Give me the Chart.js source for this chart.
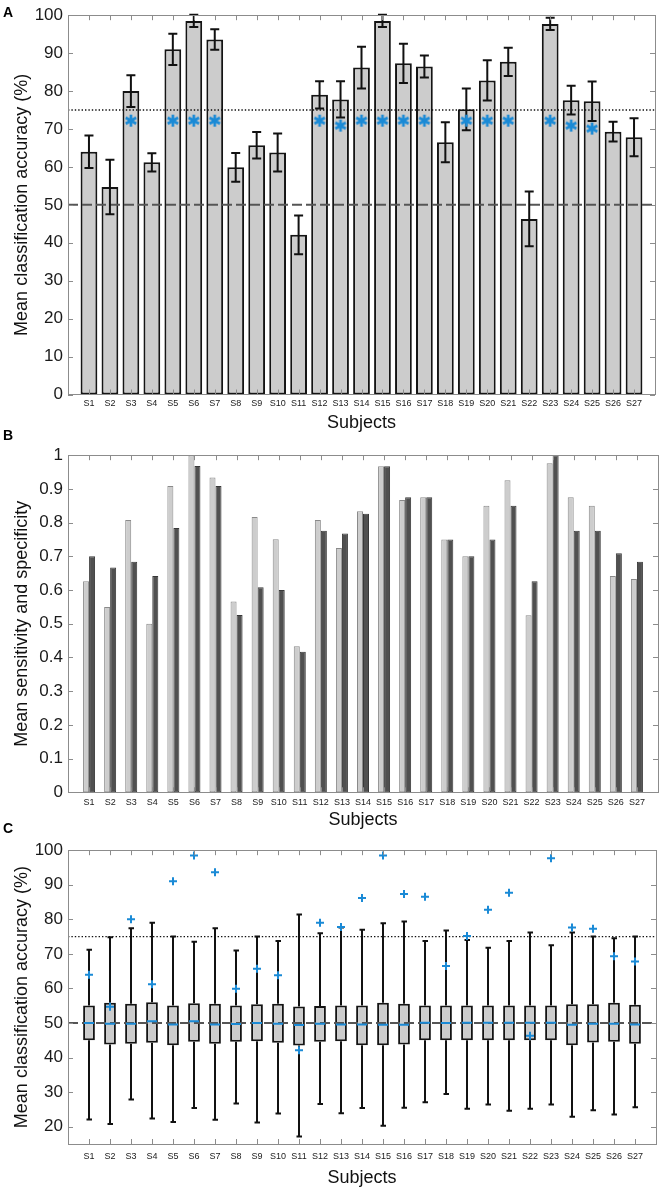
<!DOCTYPE html>
<html>
<head>
<meta charset="utf-8">
<script src="https://cdn.jsdelivr.net/npm/chart.js@4.4.0/dist/chart.umd.min.js"></script>
<style>
  body { margin: 0; background: #fff; width: 663px; height: 1191px; position: relative; overflow: hidden; }
  canvas { position: absolute; left: 0; }
  .panel { position: absolute; left: 3px; font: bold 14px "Liberation Sans", Arial, sans-serif; line-height: 14px; color: #000; z-index: 2; }
</style>
</head>
<body>
<canvas id="chartA" width="663" height="440" style="top:0"></canvas>
<canvas id="chartB" width="663" height="395" style="top:440px"></canvas>
<canvas id="chartC" width="663" height="356" style="top:835px"></canvas>
<div class="panel" style="top:5px">A</div>
<div class="panel" style="top:428px">B</div>
<div class="panel" style="top:821px">C</div>
<script>
// subjects on the x axis (shared by all three panels)
var subjects = ['S1','S2','S3','S4','S5','S6','S7','S8','S9','S10','S11','S12','S13','S14',
  'S15','S16','S17','S18','S19','S20','S21','S22','S23','S24','S25','S26','S27'];

// panel A: mean accuracy, error, significance stars
var meanAcc = [64.0, 54.7, 80.0, 61.2, 91.0, 98.5, 93.6, 59.9, 65.7, 63.8, 42.1, 79.0, 77.8, 86.2,
  98.5, 87.3, 86.5, 66.5, 75.2, 82.8, 87.7, 46.3, 97.7, 77.6, 77.3, 69.3, 67.8];
var accErr = [4.3, 7.2, 4.2, 2.4, 4.1, 1.6, 2.7, 3.8, 3.5, 5.0, 5.1, 3.6, 4.8, 5.5,
  1.6, 5.2, 2.9, 5.3, 5.5, 5.3, 3.7, 7.2, 1.6, 3.8, 5.2, 2.6, 5.0];
var starY = [null, null, 72.2, null, 72.2, 72.2, 72.2, null, null, null, null, 72.2, 70.9, 72.2,
  72.2, 72.2, 72.2, null, 72.2, 72.2, 72.2, null, 72.2, 70.9, 70.1, null, null];
var accTicks = [0, 10, 20, 30, 40, 50, 60, 70, 80, 90, 100];
var chanceLevel = 50;
var sigLevel = 75;

// panel B: sensitivity (light) and specificity (dark)
var sensitivity = [0.626, 0.55, 0.808, 0.50, 0.909, 1.0, 0.934, 0.566, 0.817, 0.751, 0.433, 0.808, 0.725, 0.834,
  0.967, 0.867, 0.875, 0.75, 0.70, 0.85, 0.926, 0.525, 0.976, 0.875, 0.85, 0.642, 0.633];
var specificity = [0.70, 0.667, 0.684, 0.642, 0.784, 0.968, 0.909, 0.526, 0.608, 0.60, 0.417, 0.776, 0.768, 0.826,
  0.967, 0.875, 0.875, 0.75, 0.70, 0.75, 0.85, 0.626, 1.0, 0.776, 0.776, 0.709, 0.684];
var rateTicks = [0, 0.1, 0.2, 0.3, 0.4, 0.5, 0.6, 0.7, 0.8, 0.9, 1];

// panel C: permutation distributions (box plots)
var permLow = [22.1, 20.8, 27.9, 22.4, 21.4, 25.4, 22.0, 26.7, 21.2, 23.8, 17.2, 26.6, 23.9, 25.4,
  20.3, 25.5, 27.1, 29.5, 25.2, 26.4, 24.6, 25.2, 26.4, 22.9, 24.8, 23.5, 25.6];
var permQ1 = [45.0, 43.8, 44.0, 44.3, 43.6, 44.6, 44.0, 44.6, 44.7, 44.3, 43.5, 44.6, 44.7, 43.6,
  43.6, 43.8, 45.0, 45.0, 45.0, 45.0, 45.0, 45.0, 45.0, 43.6, 44.4, 44.6, 44.0];
var permMedian = [50.0, 49.8, 49.8, 50.5, 49.6, 50.5, 49.6, 49.7, 50.0, 49.8, 49.4, 49.8, 49.6, 49.6,
  49.5, 49.5, 50.1, 50.0, 50.1, 50.1, 50.1, 50.1, 50.1, 49.5, 49.8, 49.8, 49.6];
var permQ3 = [55.1, 55.9, 55.6, 56.0, 55.1, 55.7, 55.6, 55.1, 55.4, 55.6, 54.8, 54.9, 55.1, 55.1,
  55.9, 55.6, 55.1, 55.1, 55.1, 55.1, 55.1, 55.1, 55.1, 55.4, 55.4, 55.9, 55.3];
var permHigh = [71.2, 74.8, 77.4, 79.0, 75.0, 73.5, 77.4, 71.0, 75.0, 73.7, 81.4, 76.0, 77.6, 77.0,
  78.9, 79.4, 73.7, 76.8, 74.0, 71.8, 73.7, 76.2, 72.5, 76.2, 75.0, 74.5, 75.0];
var permTicks = [20, 30, 40, 50, 60, 70, 80, 90, 100];

var blue = '#1a8ad6';
var fontFam = '"Liberation Sans", Arial, sans-serif';
Chart.defaults.font.family = fontFam;
Chart.defaults.color = '#1a1a1a';

// empty slot at both ends so the axis runs 0..28 like the original
var labels = [''].concat(subjects, ['']);
function pad(arr) { return [null].concat(arr, [null]); }

// six-armed asterisk used as point style
function makeAsterisk(size, color) {
  var c = document.createElement('canvas');
  c.width = c.height = size;
  var g = c.getContext('2d');
  g.strokeStyle = color;
  g.lineWidth = 2.7;
  var r = size / 2 - 1, m = size / 2;
  g.beginPath();
  for (var k = 0; k < 3; k++) {
    var a = Math.PI / 2 + k * Math.PI / 3;
    g.moveTo(m + r * Math.cos(a), m + r * Math.sin(a));
    g.lineTo(m - r * Math.cos(a), m - r * Math.sin(a));
  }
  g.stroke();
  return c;
}

// grey box round the plot area with inward ticks
var framePlugin = {
  id: 'frame',
  afterDraw: function(chart) {
    var ctx = chart.ctx, a = chart.chartArea, x = chart.scales.x, y = chart.scales.y;
    ctx.save();
    ctx.strokeStyle = '#8c8c8c';
    ctx.lineWidth = 1;
    ctx.beginPath();
    y.ticks.forEach(function(t, i) {
      var py = Math.round(y.getPixelForTick(i)) + 0.5;
      ctx.moveTo(a.left, py); ctx.lineTo(a.left + 5, py);
      ctx.moveTo(a.right, py); ctx.lineTo(a.right - 5, py);
    });
    x.ticks.forEach(function(t, i) {
      if (!t.label) return;
      var px = Math.round(x.getPixelForTick(i)) + 0.5;
      ctx.moveTo(px, a.top); ctx.lineTo(px, a.top + 5);
      ctx.moveTo(px, a.bottom); ctx.lineTo(px, a.bottom - 5);
    });
    ctx.stroke();
    ctx.strokeRect(Math.round(a.left) + 0.5, Math.round(a.top) + 0.5, Math.round(a.width), Math.round(a.height));
    ctx.restore();
  }
};

// chance (dashed) and significance (dotted) lines, drawn right after the bars
function drawRefLines(chart) {
  var ctx = chart.ctx, a = chart.chartArea, y = chart.scales.y;
  ctx.save();
  var p75 = y.getPixelForValue(sigLevel);
  ctx.strokeStyle = '#111';
  ctx.lineWidth = 1.4;
  ctx.setLineDash([1.4, 2]);
  ctx.beginPath(); ctx.moveTo(a.left, p75); ctx.lineTo(a.right, p75); ctx.stroke();
  var p50 = y.getPixelForValue(chanceLevel);
  ctx.strokeStyle = '#555';
  ctx.lineWidth = 2;
  ctx.setLineDash([10, 4]);
  ctx.beginPath(); ctx.moveTo(a.left, p50); ctx.lineTo(a.right, p50); ctx.stroke();
  ctx.restore();
}

function xAxis(height, pad, titlePad) {
  return {
    type: 'category',
    offset: false,
    grid: { display: false, drawTicks: false },
    border: { display: false },
    ticks: { autoSkip: false, maxRotation: 0, padding: pad, font: { size: 9 }, color: '#1a1a1a' },
    title: { display: true, text: 'Subjects', font: { size: 18 }, color: '#111', padding: { top: 0, bottom: titlePad } },
    afterFit: function(axis) { axis.height = height; }
  };
}

function yAxis(min, max, tickList, title, fmt) {
  return {
    min: min, max: max,
    grid: { display: false, drawTicks: false },
    border: { display: false },
    afterBuildTicks: function(axis) { axis.ticks = tickList.map(function(v) { return { value: v }; }); },
    ticks: { padding: 5, font: { size: 17 }, color: '#1a1a1a', callback: fmt || function(v) { return String(v); } },
    title: { display: true, text: title, font: { size: 18 }, color: '#111', padding: { top: 11, bottom: 0 } },
    afterFit: function(axis) { axis.width = 68; }
  };
}

var commonOpts = {
  responsive: false,
  animation: false,
  events: [],
  plugins: { legend: { display: false }, tooltip: { enabled: false } }
};

// ---------- panel A ----------
new Chart(document.getElementById('chartA'), {
  type: 'bar',
  data: {
    labels: labels,
    datasets: [{
      label: 'Mean accuracy',
      data: pad(meanAcc),
      backgroundColor: '#cccccc',
      borderColor: '#141414',
      borderWidth: 2,
      borderSkipped: false,
      barPercentage: 0.8,
      categoryPercentage: 1,
      order: 2
    }, {
      type: 'line',
      label: 'Significant',
      data: pad(starY),
      showLine: false,
      pointStyle: makeAsterisk(14, blue),
      pointRadius: 7,
      order: 1
    }]
  },
  options: Object.assign({}, commonOpts, {
    layout: { padding: { top: 10, right: 3, left: 0, bottom: 0 } },
    scales: {
      x: xAxis(45.5, 4, 6),
      y: yAxis(0, 100, accTicks, 'Mean classification accuracy (%)')
    }
  }),
  plugins: [framePlugin, {
    id: 'errA',
    afterDatasetDraw: function(chart, args) {
      if (args.meta.type !== 'bar') return;
      drawRefLines(chart);
      var ctx = chart.ctx, y = chart.scales.y, err = pad(accErr), vals = pad(meanAcc);
      ctx.save();
      ctx.strokeStyle = '#111';
      ctx.lineWidth = 2;
      ctx.beginPath();
      args.meta.data.forEach(function(bar, i) {
        if (vals[i] == null) return;
        var top = y.getPixelForValue(vals[i] + err[i]), bot = y.getPixelForValue(vals[i] - err[i]);
        ctx.moveTo(bar.x, top); ctx.lineTo(bar.x, bot);
        ctx.moveTo(bar.x - 4.5, top); ctx.lineTo(bar.x + 4.5, top);
        ctx.moveTo(bar.x - 4.5, bot); ctx.lineTo(bar.x + 4.5, bot);
      });
      ctx.stroke();
      ctx.restore();
    }
  }]
});

// ---------- panel B ----------
new Chart(document.getElementById('chartB'), {
  type: 'bar',
  data: {
    labels: labels,
    datasets: [{
      label: 'Sensitivity',
      data: pad(sensitivity),
      backgroundColor: '#cdcdcd',
      borderColor: '#8a8a8a',
      borderWidth: 1,
      borderSkipped: false,
      barPercentage: 1,
      categoryPercentage: 0.57
    }, {
      label: 'Specificity',
      data: pad(specificity),
      backgroundColor: '#505050',
      borderColor: '#383838',
      borderWidth: 1,
      borderSkipped: false,
      barPercentage: 1,
      categoryPercentage: 0.57
    }]
  },
  options: Object.assign({}, commonOpts, {
    layout: { padding: { top: 9, right: 3, left: 0, bottom: 0 } },
    scales: {
      x: xAxis(42.7, 5, 4),
      y: yAxis(0, 1, rateTicks, 'Mean sensitivity and specificity')
    }
  }),
  plugins: [framePlugin]
});

// ---------- panel C ----------
new Chart(document.getElementById('chartC'), {
  type: 'bar',
  data: {
    labels: labels,
    datasets: [{
      label: 'Permutation IQR',
      data: pad(permQ1.map(function(q, i) { return [q, permQ3[i]]; })),
      backgroundColor: '#cccccc',
      borderColor: '#141414',
      borderWidth: 2,
      borderSkipped: false,
      barPercentage: 0.56,
      categoryPercentage: 1,
      order: 3
    }, {
      type: 'line',
      label: 'Median',
      data: pad(permMedian),
      showLine: false,
      pointStyle: 'line',
      pointRadius: 5,
      pointBorderWidth: 2,
      borderColor: blue,
      order: 2
    }, {
      type: 'line',
      label: 'Actual accuracy',
      data: pad(meanAcc),
      showLine: false,
      pointStyle: 'cross',
      pointRadius: 4,
      pointBorderWidth: 2,
      borderColor: blue,
      order: 1
    }]
  },
  options: Object.assign({}, commonOpts, {
    layout: { padding: { top: 8, right: 3, left: 0, bottom: 0 } },
    scales: {
      x: xAxis(47, 7, 2),
      y: yAxis(15, 100, permTicks, 'Mean classification accuracy (%)')
    }
  }),
  plugins: [framePlugin, {
    id: 'whiskers',
    beforeDatasetsDraw: function(chart) {
      var ctx = chart.ctx, y = chart.scales.y, meta = chart.getDatasetMeta(0);
      var lo = pad(permLow), hi = pad(permHigh), q1 = pad(permQ1), q3 = pad(permQ3);
      ctx.save();
      ctx.strokeStyle = '#111';
      ctx.lineWidth = 2;
      ctx.beginPath();
      meta.data.forEach(function(bar, i) {
        if (lo[i] == null) return;
        var pLo = y.getPixelForValue(lo[i]), pHi = y.getPixelForValue(hi[i]);
        ctx.moveTo(bar.x, y.getPixelForValue(q3[i])); ctx.lineTo(bar.x, pHi);
        ctx.moveTo(bar.x, y.getPixelForValue(q1[i])); ctx.lineTo(bar.x, pLo);
        ctx.moveTo(bar.x - 2.5, pHi); ctx.lineTo(bar.x + 3, pHi);
        ctx.moveTo(bar.x - 2.5, pLo); ctx.lineTo(bar.x + 3, pLo);
      });
      ctx.stroke();
      ctx.restore();
    },
    afterDatasetDraw: function(chart, args) {
      if (args.meta.type === 'bar') drawRefLines(chart);
    }
  }]
});
</script>
</body>
</html>
